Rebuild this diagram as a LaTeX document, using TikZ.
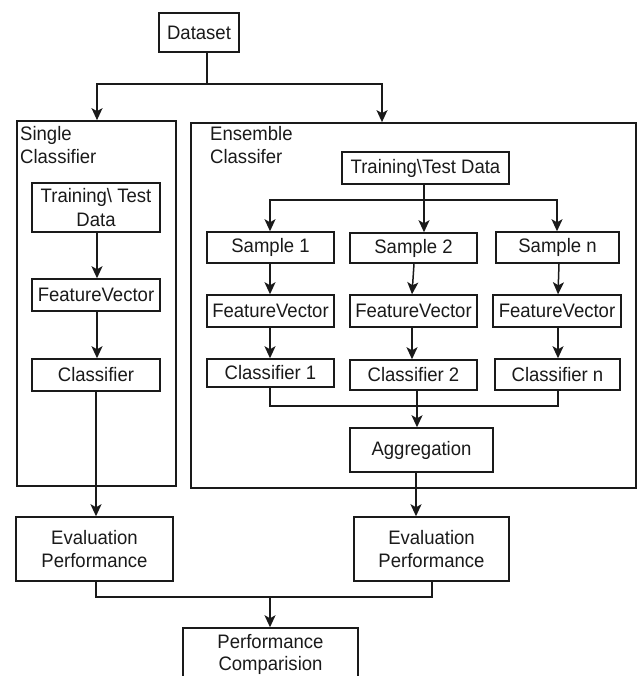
\documentclass[tikz,border=0pt]{standalone}
\usepackage{fontspec}
\setmainfont{Liberation Sans}[FakeStretch=0.95]
\usetikzlibrary{arrows.meta,calc}
\definecolor{ink}{HTML}{1A1A1A}
\tikzset{
  box/.style={draw=ink, line width=1.5pt, inner sep=0pt, align=center,
    font=\fontsize{19.5}{23.5}\selectfont, text=ink},
  frame/.style={draw=ink, line width=1.7pt, inner sep=0pt},
  lbl/.style={anchor=north west, inner sep=0pt, align=left,
    font=\fontsize{19.5}{23.5}\selectfont, text=ink},
  ln/.style={draw=ink, line width=1.5pt},
  arr/.style={ln, -{Stealth[length=12pt,width=11pt,inset=3pt]}}
}
% box by its left, top, right and bottom edges (y grows downwards)
\newcommand\cornerbox[7][box]{%
  \node[#1, minimum width={#5-#3}, minimum height={#6-#4}]
    (#2) at ({(#3+#5)/2},{(#4+#6)/2}) {#7};}
\begin{document}
\begin{tikzpicture}[x=1pt,y=-1pt]
\useasboundingbox (0,0) rectangle (638,676);
\clip (0,0) rectangle (638,676);

% top
\cornerbox{dataset}{159}{13}{239}{52}{Dataset}

% the two classifier frames
\cornerbox[frame]{single}{17}{121}{176}{486}{}
\cornerbox[frame]{ensemble}{191}{123}{636}{488}{}
\node[lbl] (singlelbl) at (20,126) {Single\\Classifier};
\node[lbl] (enslbl) at (210,126) {Ensemble\\Classifer};

% single classifier chain
\cornerbox{stt}{32}{183}{160}{232}{Training\textbackslash\ Test\\Data}
\cornerbox{sfv}{32}{279}{160}{311}{FeatureVector}
\cornerbox{scl}{32}{359}{160}{391}{Classifier}

% ensemble classifier
\cornerbox{ett}{342}{152}{509}{184}{Training\textbackslash Test Data}
\cornerbox{s1}{207}{232}{334}{263}{Sample 1}
\cornerbox{s2}{350}{233}{477}{263}{Sample 2}
\cornerbox{sn}{496}{232}{619}{263}{Sample n}
\cornerbox{fv1}{207}{295}{334}{327}{FeatureVector}
\cornerbox{fv2}{350}{295}{477}{327}{FeatureVector}
\cornerbox{fvn}{493}{295}{621}{327}{FeatureVector}
\cornerbox{c1}{207}{359}{334}{387}{Classifier 1}
\cornerbox{c2}{350}{360}{477}{390}{Classifier 2}
\cornerbox{cn}{495}{359}{620}{390}{Classifier n}
\cornerbox{agg}{350}{428}{493}{472}{Aggregation}

% evaluation and comparison
\cornerbox{evl}{16}{517}{173}{581}{Evaluation\\Performance}
\cornerbox{evr}{354}{517}{509}{581}{Evaluation\\Performance}
\cornerbox{cmp}{183}{628}{358}{690}{\raisebox{26pt}{\begin{tabular}{@{}c@{}}Performance\\[-1pt]Comparision\end{tabular}}}

% dataset split
\coordinate (dsrc) at ($(dataset.south)+(8,0)$);
\coordinate (dsplit) at (207,84);
\draw[ln] (dsrc) -- (dsplit);
\draw[arr] (dsplit) -| (97,0 |- single.north) coordinate (sin);
\draw[arr] (dsplit) -| (382,0 |- ensemble.north) coordinate (ein);

% single chain arrows
\draw[arr] (stt.south -| 97,0) -- (sfv.north -| 97,0);
\draw[arr] (sfv.south -| 97,0) -- (scl.north -| 97,0);
\draw[arr] (scl.south -| 96,0) -- (evl.north -| 96,0);

% ensemble fan-out
\coordinate (esplit) at (424,200);
\draw[ln] (ett.south -| esplit) -- (esplit);
\draw[arr] (esplit) -| (s1.north -| 270,0);
\draw[arr] (esplit) -| (sn.north -| 557,0);
\draw[arr] (esplit) -- (s2.north -| esplit);

\draw[arr] (s1.south -| 270,0) -- (fv1.north -| 270,0);
\draw[arr] (s2.south -| 414,0) -- (fv2.north -| 412,0);
\draw[arr] (sn.south -| 559,0) -- (fvn.north -| 558,0);

\draw[arr] (fv1.south -| 270,0) -- (c1.north -| 270,0);
\draw[arr] (fv2.south -| 412,0) -- (c2.north -| 412,0);
\draw[arr] (fvn.south -| 558,0) -- (cn.north -| 558,0);

% ensemble fan-in
\draw[ln] (c1.south -| 270,0) |- (558,406) -- (cn.south -| 558,0);
\draw[arr] (c2.south -| 417,0) -- (agg.north -| 417,0);
\draw[arr] (agg.south -| 416,0) -- (evr.north -| 416,0);

% comparison
\coordinate (cjoin) at (270,597);
\draw[ln] (evl.south -| 96,0) |- (432,597) -- (evr.south -| 432,0);
\draw[arr] (cjoin) -- (cmp.north -| cjoin);
\end{tikzpicture}
\end{document}
